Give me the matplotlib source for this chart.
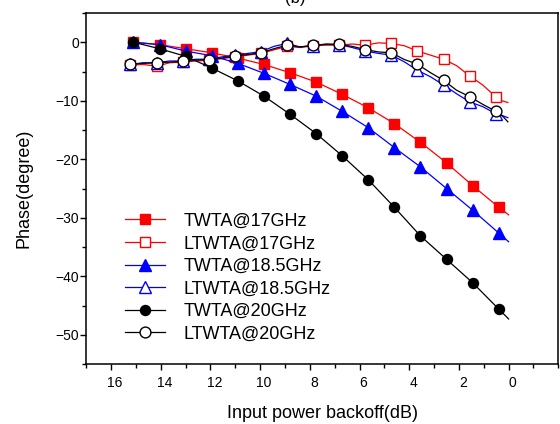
import numpy as np
import matplotlib
matplotlib.use("Agg")
import matplotlib.pyplot as plt
import matplotlib.transforms as mtransforms
from matplotlib.ticker import MultipleLocator

plt.rcParams['font.family'] = ['Liberation Sans', 'DejaVu Sans']

# --- data ---
# TWTA curves: markers every ~1.05 dB, last point is the line end at 0 dB
twta_x = [15.1, 14.05, 13.0, 11.95, 10.9, 9.85, 8.8, 7.75, 6.7, 5.65,
          4.6, 3.55, 2.5, 1.45, 0.4, 0.0]
twta_17 = [0.0, -0.4, -1.1, -1.8, -2.7, -3.8, -5.2, -6.8, -8.9, -11.2,
           -13.9, -17.1, -20.6, -24.5, -28.2, -29.5]
twta_185 = [0.0, -0.4, -1.5, -2.3, -3.6, -5.3, -7.2, -9.2, -11.8, -14.6,
            -18.0, -21.3, -25.0, -28.7, -32.6, -34.1]
twta_20 = [0.0, -1.1, -2.4, -4.4, -6.6, -9.2, -12.3, -15.6, -19.4, -23.5,
           -28.2, -33.1, -37.1, -41.1, -45.6, -47.3]

# LTWTA curves: markers on every other point
ltwta_x = [15.22, 14.7, 14.17, 13.645, 13.12, 12.595, 12.07, 11.545, 11.02,
           10.495, 9.97, 9.445, 8.92, 8.395, 7.87, 7.345, 6.82, 6.295, 5.77,
           5.245, 4.72, 4.195, 3.67, 3.145, 2.62, 2.095, 1.57, 1.045, 0.52,
           0.27, 0.03]
ltwta_17 = [-3.9, -3.8, -4.1, -3.5, -3.4, -3.2, -3.1, -2.8, -2.5, -2.2, -1.9,
            -1.3, -0.7, -0.9, -0.6, -0.5, -0.5, -0.3, -0.5, -0.1, -0.2, -0.6,
            -1.5, -2.2, -2.9, -4.0, -5.75, -7.3, -9.3, -10.0, -10.3]
ltwta_185 = [-3.8, -3.5, -3.5, -3.2, -3.2, -2.9, -2.9, -2.5, -2.2, -1.9, -1.6,
             -0.7, -0.2, -0.8, -0.6, -0.3, -0.4, -0.9, -1.5, -1.9, -2.2, -3.35,
             -4.8, -5.9, -7.3, -8.8, -10.2, -11.0, -12.2, -12.5, -12.9]
ltwta_20 = [-3.75, -3.6, -3.5, -3.4, -3.25, -3.05, -2.95, -2.7, -2.35, -2.1,
            -1.8, -1.1, -0.5, -0.8, -0.5, -0.35, -0.35, -0.7, -1.25, -1.65,
            -1.8, -2.95, -3.75, -5.2, -6.5, -8.2, -9.3, -10.6, -11.8, -12.5,
            -13.6]

labels = ['TWTA@17GHz', 'LTWTA@17GHz', 'TWTA@18.5GHz', 'LTWTA@18.5GHz',
          'TWTA@20GHz', 'LTWTA@20GHz']
x_ticks = [16, 14, 12, 10, 8, 6, 4, 2, 0]
y_ticks = [0, -10, -20, -30, -40, -50]

fig = plt.figure(figsize=(5.6, 4.24), dpi=100)
ax = fig.add_axes([0.154, 0.1415, 0.843, 0.8278])

tw_mark = slice(0, -1)
lt_mark = slice(0, 29, 2)
lw = 0.9

ax.plot(twta_x, twta_17, color='red', lw=lw, marker='s', ms=7,
        markevery=tw_mark, label=labels[0])
ax.plot(ltwta_x, ltwta_17, color='red', lw=lw, marker='s', ms=7.5,
        mfc='white', mec='red', markevery=lt_mark, label=labels[1])
ax.plot(twta_x, twta_185, color='blue', lw=lw, marker='^', ms=8.5,
        markevery=tw_mark, label=labels[2])
ax.plot(ltwta_x, ltwta_185, color='blue', lw=lw, marker='^', ms=8.5,
        mfc='white', mec='blue', markevery=lt_mark, label=labels[3])
ax.plot(twta_x, twta_20, color='black', lw=lw, marker='o', ms=7.2,
        markevery=tw_mark, label=labels[4])
ax.plot(ltwta_x, ltwta_20, color='black', lw=lw, marker='o', ms=7.8,
        mfc='white', mec='black', markevery=lt_mark, label=labels[5])

ax.set_xlim(17, -2)
ax.set_ylim(-55, 5)
ax.set_xticks(x_ticks)
ax.set_yticks(y_ticks)
ax.xaxis.set_minor_locator(MultipleLocator(1))
ax.yaxis.set_minor_locator(MultipleLocator(5))
ax.tick_params(which='major', direction='out', length=4.3, width=1,
               labelsize=10)
ax.tick_params(axis='y', which='major', pad=1)
ax.tick_params(axis='x', which='major', pad=4)
ax.tick_params(which='minor', direction='out', length=2.8, width=1)
for sp in ax.spines.values():
    sp.set_linewidth(1.1)

# x tick labels sit a little right of their ticks in the original
shift = mtransforms.ScaledTranslation(4 / 100, 0, fig.dpi_scale_trans)
for lab in ax.get_xticklabels():
    lab.set_transform(lab.get_transform() + shift)

ax.set_xlabel('Input power backoff(dB)', fontsize=13, labelpad=11)
ax.set_ylabel('Phase(degree)', fontsize=13, labelpad=16)

ax.legend(loc='upper left', bbox_to_anchor=(0.082, 0.431), frameon=False,
          fontsize=13, handlelength=2.2, handletextpad=1.05,
          labelspacing=0.31, borderaxespad=0, borderpad=0)

fig.text(0.527, 1.004, '(b)', ha='center', va='center', fontsize=12)

fig.savefig('out.png', dpi=100)
